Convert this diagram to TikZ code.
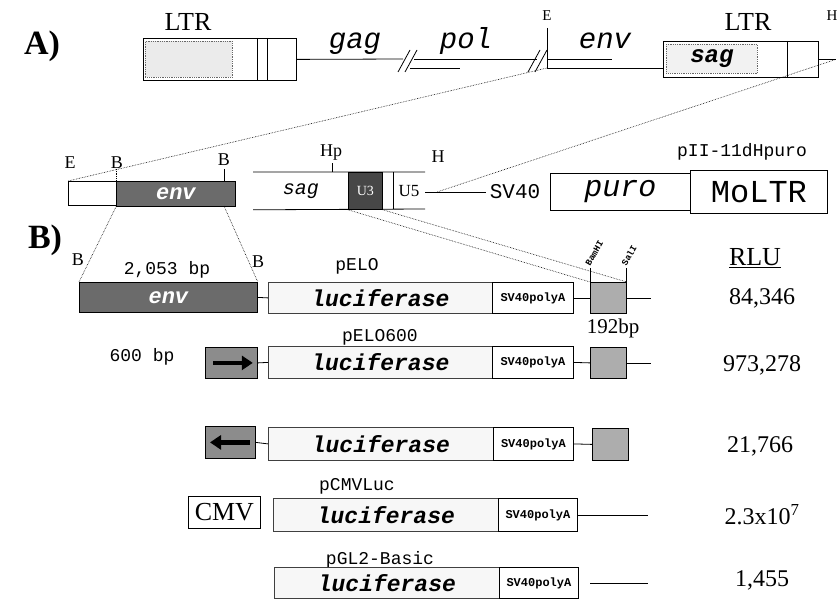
\documentclass[tikz,border=0pt]{standalone}
\usepackage{fontspec}
\setmainfont{Liberation Serif}
\setmonofont{Liberation Mono}
\usetikzlibrary{arrows.meta,positioning}
\newcommand{\fsz}[1]{\fontsize{#1}{#1}\selectfont}
\tikzset{
  segbox/.style={rectangle, draw=black, line width=0.8pt, inner sep=0pt, anchor=north west},
  wh/.style 2 args={minimum width=#1, minimum height=#2},
  envbox/.style={segbox, fill=black!58, text=white, font=\ttfamily\itshape\bfseries\fsz{22}},
  lucbox/.style={segbox, draw=black!75, fill=black!3, font=\ttfamily\itshape\bfseries\fsz{23}},
  polybox/.style={segbox, font=\ttfamily\bfseries\fsz{12}},
  frag/.style={segbox, fill=black!32},
  lbl/.style={font=\fsz{18}, inner sep=0pt},
  ptxt/.style={font=\ttfamily\fsz{18}, inner sep=0pt},
  gene/.style={font=\ttfamily\itshape\fsz{29}, inner sep=0pt, anchor=base},
  rlu/.style={font=\fsz{24}, inner sep=0pt},
  tick/.style={line width=0.8pt},
  proj/.style={densely dotted, line width=0.6pt},
  ln/.style={line width=0.8pt},
  fatarr/.style={-{Triangle[length=11pt,width=14pt]}, line width=4.5pt},
}
\begin{document}
\begin{tikzpicture}[x=1pt,y=-1pt]
\useasboundingbox (0,0) rectangle (840,599);
% A) provirus
\node[font=\bfseries\fsz{34}] (pa) at (42,46) {A)};
\node[segbox, wh={153pt}{42pt}] (ltrL) at (143,38) {};
\node[segbox, draw=black!60, densely dotted, fill=black!8, wh={87pt}{36pt}] (u3L) at (145,41) {};
\draw[ln] (257,38) -- (257,80) (267,38) -- (267,80);
\node[font=\fsz{26}] (ltrLl) at (188,22) {LTR};
\node[gene] (gag) at (355,49) {gag};
\node[gene] (pol) at (466,49) {pol};
\node[gene] (envg) at (605,49) {env};
\draw[ln] (ltrL.east) -- (403,59);
\draw[ln] (398,72) -- (410,50) (405,72) -- (417,50);
\draw[ln] (414,59) -- (537,59);
\draw[ln] (410,68) -- (460,68);
\draw[ln] (528,72) -- (540,50) (535,72) -- (547,50);
\draw[ln] (547,59) -- (612,59);
\node[segbox, wh={155pt}{36pt}] (ltrR) at (663,41) {};
\node[segbox, draw=black!60, densely dotted, fill=black!5, wh={91pt}{29pt},
      font=\ttfamily\itshape\bfseries\fsz{24}] (sagA) at (666,44) {sag};
\draw[ln] (787,41) -- (787,77);
\node[font=\fsz{26}] (ltrRl) at (748,22) {LTR};
\coordinate (eA) at (547,68);
\draw[ln] (eA) -- (ltrR.west |- eA);
\draw[tick] (547,28) -- (eA);
\node[font=\fsz{15}] (lEa) at (547,16) {E};
\draw[ln] (ltrR.east) -- ++(17,0) coordinate (hA);
\node[font=\fsz{15}] (lHa) at (832,16) {H};

% B) fragments
\node[font=\bfseries\fsz{34}] (pb) at (45,240) {B)};
\node[segbox, wh={48pt}{24pt}] (fragE) at (68,181) {};
\node[envbox, wh={119pt}{25pt}] (envA) at (116,181) {env};
\node[lbl] (lE1) at (70,163) {E};
\node[lbl] (lB1) at (117,163) {B};
\node[lbl] (lB2) at (224,160) {B};
\draw[tick, densely dotted] (116,169) -- (envA.north west);
\draw[tick] (224,169) -- (224,181);
\node[segbox, draw=none, wh={95pt}{37pt}, font=\ttfamily\itshape\fsz{20}] (sagB) at (253,172) {sag};
\draw[ln] (sagB.north west) -- (425,172) (sagB.south west) -- (425,209);
\node[segbox, fill=black!72, text=white, wh={34pt}{37pt}, font=\fsz{14}] (u3B) at (348,172) {U3};
\draw[ln] (393,172) -- (393,209);
\node[lbl, font=\fsz{17}] (u5) at (409,191) {U5};
\node[lbl] (hp) at (331,153) {Hp};
\draw[tick] (332,163) -- (332,172);
\node[lbl] (hB) at (438,157) {H};
\coordinate (h1) at (425,192);
\coordinate (hpos) at (437,192);
\node[font=\ttfamily\fsz{21}] (sv40) at (515,192) {SV40};
\draw[ln] (h1) -- (sv40.west);
\node[segbox, draw=none, wh={140pt}{37pt}, font=\ttfamily\itshape\fsz{30}] (puro) at (550,173) {puro};
\draw[ln] (puro.north east) -- (puro.north west) -- (puro.south west) -- (puro.south east);
\node[segbox, wh={137pt}{43pt}, font=\ttfamily\fsz{32}] (moltr) at (690,170) {MoLTR};
\node[ptxt] (pII) at (742,152) {pII-11dHpuro};
\draw[proj] (eA) -- (fragE.north west);
\draw[proj] (hA) -- (hpos);

% pELO
\node[envbox, wh={178pt}{30pt}] (env2) at (79,282) {env};
\node[lbl] (lB3) at (78,260) {B};
\node[lbl] (lB4) at (258,262) {B};
\node[ptxt] (bp2053) at (167,270) {2,053 bp};
\node[ptxt] (pelo) at (357,266) {pELO};
\node[lucbox, wh={224pt}{31pt}] (luc2) at (268,282) {luciferase};
\node[polybox, wh={81pt}{31pt}] (sv2) at (492,282) {SV40polyA};
\node[frag, wh={36pt}{31pt}] (s192a) at (590,282) {};
\draw[ln] (env2.east) -- (luc2.west);
\draw[ln] (sv2.east) -- (s192a.west);
\draw[ln] (s192a.east) -- ++(24,0);
\draw[tick] (s192a.north west) -- ++(0,-14);
\draw[tick] (s192a.north east) -- ++(0,-14);
\node[font=\ttfamily\bfseries\fsz{9}, rotate=60, anchor=west, inner sep=1pt] (bam) at (587,266) {BamHI};
\node[font=\ttfamily\bfseries\fsz{9}, rotate=60, anchor=west, inner sep=1pt] (sal) at (623,266) {SalI};
\node[lbl, font=\fsz{21}] (bp192) at (613,328) {192bp};
\node[rlu, font=\fsz{26}] (rlu) at (755,258) {\underline{RLU}};
\node[rlu] (v1) at (762,298) {84,346};
\coordinate (bR) at (224,206);
\draw[proj] (envA.south west) -- (env2.north west);
\draw[proj] (bR) -- (env2.north east);
\draw[proj] (u3B.south west) -- (s192a.north west);
\draw[proj] (u3B.south east) -- (s192a.north east);

% pELO600
\node[ptxt] (pelo600) at (380,337) {pELO600};
\node[ptxt] (bp600) at (142,357) {600 bp};
\node[frag, fill=black!45, wh={52pt}{31pt}] (fw) at (205,347) {};
\draw[fatarr] ([xshift=8pt]fw.west) -- ([xshift=-5pt]fw.east);
\node[lucbox, wh={224pt}{32pt}] (luc3) at (268,346) {luciferase};
\node[polybox, wh={81pt}{32pt}] (sv3) at (492,346) {SV40polyA};
\node[frag, wh={36pt}{31pt}] (s192b) at (590,347) {};
\draw[ln] (fw.east) -- (luc3.west);
\draw[ln] (sv3.east) -- (s192b.west);
\draw[ln] (s192b.east) -- ++(24,0);
\node[rlu] (v2) at (762,365) {973,278};

% reverse
\node[frag, fill=black!45, wh={50pt}{32pt}] (rv) at (205,426) {};
\draw[fatarr] ([xshift=-6pt]rv.east) -- ([xshift=5pt]rv.west);
\node[lucbox, wh={225pt}{33pt}] (luc4) at (268,427) {luciferase};
\node[polybox, wh={80pt}{33pt}] (sv4) at (493,427) {SV40polyA};
\node[frag, wh={36pt}{32pt}] (s192c) at (592,428) {};
\draw[ln] (rv.east) -- (luc4.west);
\draw[ln] (sv4.east) -- (s192c.west);
\node[rlu] (v3) at (760,446) {21,766};

% pCMVLuc
\node[ptxt] (pcmv) at (357,486) {pCMVLuc};
\node[segbox, wh={72pt}{32pt}, font=\fsz{26}] (cmv) at (188,496) {CMV};
\node[lucbox, wh={225pt}{33pt}] (luc5) at (273,498) {luciferase};
\node[polybox, wh={79pt}{33pt}] (sv5) at (498,498) {SV40polyA};
\draw[ln] (sv5.east) -- ++(70,0) coordinate (t5);
\node[rlu] (v4) at (762,515) {2.3x10\textsuperscript{7}};

% pGL2-Basic
\node[ptxt] (pgl2) at (380,560) {pGL2-Basic};
\node[lucbox, wh={225pt}{31pt}] (luc6) at (274,567) {luciferase};
\node[polybox, wh={79pt}{31pt}] (sv6) at (499,567) {SV40polyA};
\coordinate (t6a) at (590,583);
\coordinate (t6b) at (648,583);
\draw[ln] (t6a) -- (t6b);
\node[rlu] (v5) at (762,580) {1,455};
\end{tikzpicture}
\end{document}
